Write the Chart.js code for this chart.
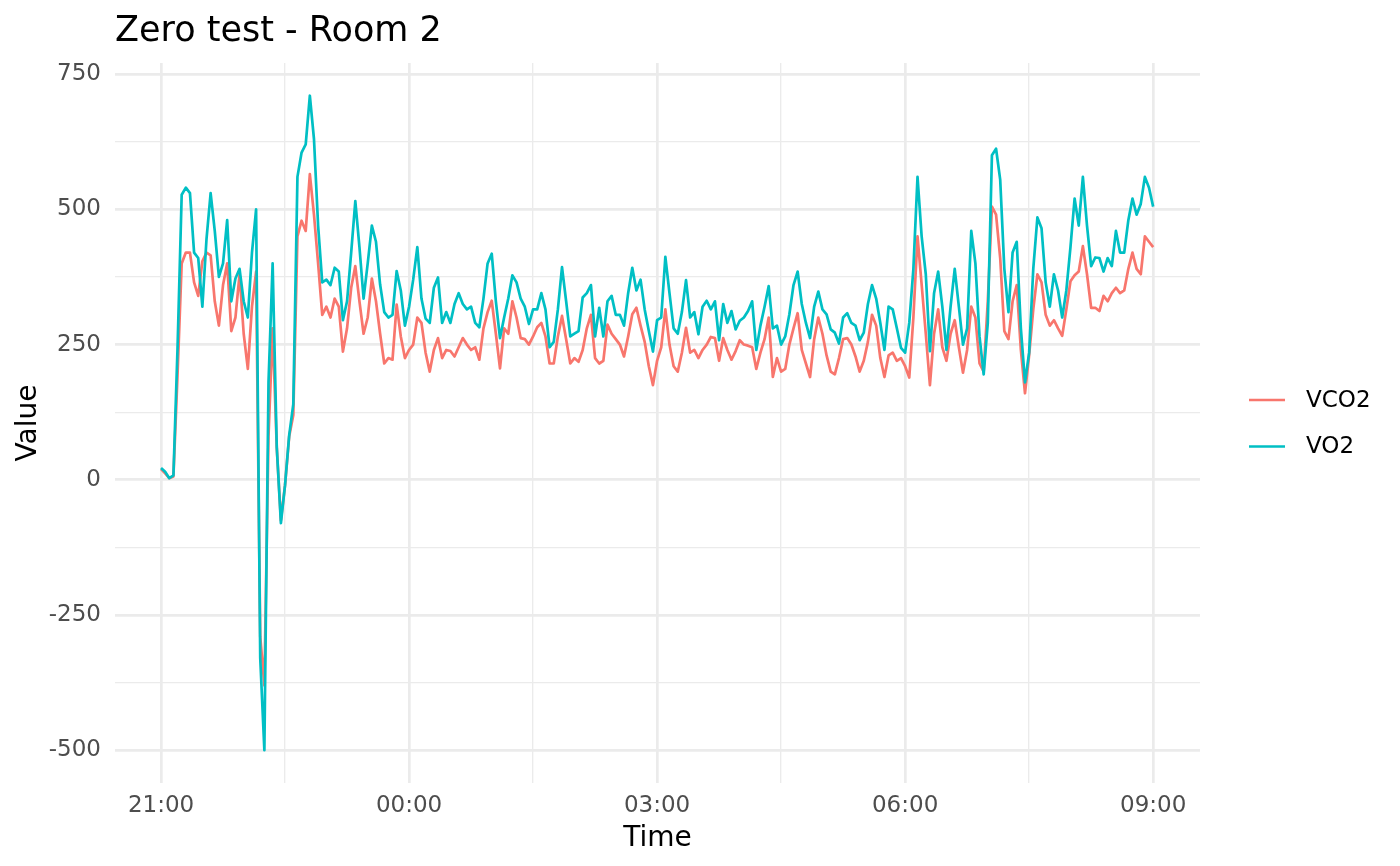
<!DOCTYPE html>
<html>
<head>
<meta charset="utf-8">
<title>Zero test - Room 2</title>
<script src="https://cdn.jsdelivr.net/npm/chart.js@4.4.0/dist/chart.umd.min.js"></script>
<style>
  html, body { margin: 0; padding: 0; background: #fff; }
  canvas { display: block; }
</style>
</head>
<body>
<canvas id="chart" width="1400" height="866"></canvas>
<script>
"use strict";

// Readings, one every 3 minutes starting at 21:00 (one row per hour)
const stepMinutes = 3;

const vco2 = [
  20, 12, 3, 6, 195, 400, 420, 420, 365, 340, 404, 420, 415, 330, 285, 360, 400, 275, 300, 380,
  270, 205, 320, 385, -290, -380, 80, 280, 60, -75, -10, 80, 120, 450, 479, 460, 565, 490, 400, 305,
  320, 300, 335, 320, 237, 280, 355, 395, 330, 270, 300, 372, 330, 270, 215, 225, 222, 324, 265, 225,
  240, 250, 300, 290, 235, 200, 240, 262, 225, 240, 238, 228, 245, 262, 250, 240, 245, 222, 280, 310,
  331, 270, 206, 280, 270, 330, 300, 262, 260, 250, 265, 282, 290, 265, 215, 215, 265, 303, 260, 215,
  225, 218, 240, 280, 305, 225, 215, 220, 287, 270, 260, 250, 228, 265, 306, 318, 285, 255, 210, 175,
  220, 245, 315, 250, 210, 200, 235, 281, 235, 240, 225, 240, 250, 264, 262, 220, 262, 240, 222, 238,
  258, 250, 248, 245, 205, 235, 260, 300, 190, 225, 200, 205, 250, 280, 308, 240, 215, 190, 260, 300,
  270, 230, 200, 195, 225, 260, 262, 250, 228, 200, 220, 255, 305, 285, 225, 190, 230, 235, 220, 225,
  210, 189, 300, 450, 361, 270, 175, 270, 315, 245, 220, 270, 295, 245, 198, 240, 320, 300, 215, 200,
  330, 505, 490, 410, 275, 260, 330, 360, 240, 160, 230, 315, 380, 365, 305, 285, 295, 280, 266, 315,
  367, 378, 385, 432, 380, 318, 318, 312, 340, 330, 345, 355, 345, 350, 390, 420, 390, 380, 450, 440,
  430
];

const vo2 = [
  22, 15, 3, 8, 245, 527, 540, 530, 420, 410, 320, 445, 530, 460, 375, 400, 480, 330, 372, 390,
  330, 300, 420, 500, -330, -500, 180, 400, 60, -80, -10, 82, 140, 560, 605, 620, 710, 630, 470, 365,
  370, 360, 392, 385, 295, 330, 420, 515, 430, 335, 400, 470, 440, 361, 310, 300, 305, 386, 350, 285,
  320, 370, 430, 335, 298, 290, 355, 374, 290, 310, 290, 325, 345, 325, 315, 320, 290, 282, 335, 400,
  418, 330, 262, 300, 335, 378, 365, 335, 320, 288, 315, 315, 345, 315, 245, 255, 315, 393, 330, 265,
  270, 275, 337, 345, 360, 265, 318, 265, 330, 340, 305, 305, 285, 345, 392, 350, 370, 315, 275, 237,
  295, 300, 412, 345, 280, 270, 310, 369, 300, 310, 269, 320, 331, 315, 330, 258, 325, 290, 312, 278,
  294, 300, 312, 330, 240, 285, 320, 358, 280, 285, 250, 265, 306, 360, 385, 325, 290, 262, 320, 348,
  315, 306, 278, 272, 252, 300, 308, 290, 285, 258, 272, 325, 360, 335, 290, 240, 320, 315, 280, 244,
  235, 290, 390, 560, 450, 380, 238, 345, 385, 320, 240, 320, 390, 320, 250, 280, 460, 400, 265, 195,
  290, 600, 612, 555, 390, 310, 420, 440, 280, 180, 235, 390, 485, 465, 365, 320, 380, 350, 300, 350,
  430, 520, 470, 560, 470, 395, 411, 410, 385, 410, 395, 460, 420, 420, 480, 520, 490, 510, 560, 540,
  505
];

// minutes since 21:00
const times = vo2.map((_, i) => i * stepMinutes);

// Ticks
const xMajorTicks = [0, 180, 360, 540, 720];
const xTickLabels = ["21:00", "00:00", "03:00", "06:00", "09:00"];
const xMinorTicks = [90, 270, 450, 630];
const yMajorTicks = [-500, -250, 0, 250, 500, 750];
const yMinorTicks = [-375, -125, 125, 375, 625];

const seriesNames = ["VCO2", "VO2"];
const seriesColors = ["#F8766D", "#00BFC4"];

const FONT = "'DejaVu Sans', 'Noto Sans', sans-serif";

function toPoints(values) {
  return values.map((v, i) => ({ x: times[i], y: v }));
}

function gridWidth(majors) {
  return (ctx) => (ctx.tick && majors.includes(ctx.tick.value) ? 2.7 : 1.35);
}

// Title and legend drawn on top of the chart
const titleAndLegend = {
  id: "titleAndLegend",
  afterDraw(chart) {
    const ctx = chart.ctx;
    ctx.save();
    ctx.fillStyle = "#000";
    ctx.font = "35px " + FONT;
    ctx.textBaseline = "alphabetic";
    ctx.textAlign = "left";
    ctx.fillText("Zero test - Room 2", 115, 41);

    ctx.font = "23px " + FONT;
    ctx.textBaseline = "middle";
    seriesNames.forEach((name, i) => {
      const y = 400 + i * 46.5;
      ctx.strokeStyle = seriesColors[i];
      ctx.lineWidth = 2.7;
      ctx.beginPath();
      ctx.moveTo(1249, y);
      ctx.lineTo(1285, y);
      ctx.stroke();
      ctx.fillStyle = "#000";
      ctx.fillText(name, 1306, y + 1);
    });
    ctx.restore();
  },
};

new Chart(document.getElementById("chart"), {
  type: "line",
  data: {
    datasets: [
      {
        label: seriesNames[0],
        data: toPoints(vco2),
        borderColor: seriesColors[0],
        order: 1,
      },
      {
        label: seriesNames[1],
        data: toPoints(vo2),
        borderColor: seriesColors[1],
        order: 0,
      },
    ],
  },
  options: {
    responsive: false,
    animation: false,
    devicePixelRatio: 1,
    layout: { padding: { top: 63, right: 200, bottom: 10, left: 10 } },
    elements: {
      point: { radius: 0 },
      line: { borderWidth: 2.7, tension: 0, borderJoinStyle: "round", fill: false },
    },
    plugins: {
      legend: { display: false },
      tooltip: { enabled: false },
    },
    scales: {
      x: {
        type: "linear",
        min: -33.4,
        max: 754,
        afterBuildTicks: (scale) => {
          scale.ticks = xMajorTicks.concat(xMinorTicks).sort((a, b) => a - b).map((v) => ({ value: v }));
        },
        afterFit: (scale) => {
          scale.height = 73;
        },
        border: { display: false },
        grid: {
          color: "#EBEBEB",
          lineWidth: gridWidth(xMajorTicks),
          drawTicks: false,
        },
        ticks: {
          autoSkip: false,
          maxRotation: 0,
          padding: 9,
          color: "#4D4D4D",
          font: { family: FONT, size: 23 },
          callback: (value) => {
            const i = xMajorTicks.indexOf(value);
            return i >= 0 ? xTickLabels[i] : "";
          },
        },
        title: {
          display: true,
          text: "Time",
          color: "#000",
          font: { family: FONT, size: 28, lineHeight: 1 },
          padding: { top: 0, bottom: 3 },
        },
      },
      y: {
        type: "linear",
        min: -560.5,
        max: 770.5,
        afterBuildTicks: (scale) => {
          scale.ticks = yMajorTicks.concat(yMinorTicks).sort((a, b) => a - b).map((v) => ({ value: v }));
        },
        afterFit: (scale) => {
          scale.width = 105;
        },
        border: { display: false },
        grid: {
          color: "#EBEBEB",
          lineWidth: gridWidth(yMajorTicks),
          drawTicks: false,
        },
        ticks: {
          autoSkip: false,
          padding: 14,
          color: "#4D4D4D",
          font: { family: FONT, size: 23 },
          callback: (value) => (yMajorTicks.includes(value) ? String(value) : ""),
        },
        title: {
          display: true,
          text: "Value",
          color: "#000",
          font: { family: FONT, size: 28, lineHeight: 1 },
          padding: { top: 5, bottom: 0 },
        },
      },
    },
  },
  plugins: [titleAndLegend],
});
</script>
</body>
</html>
